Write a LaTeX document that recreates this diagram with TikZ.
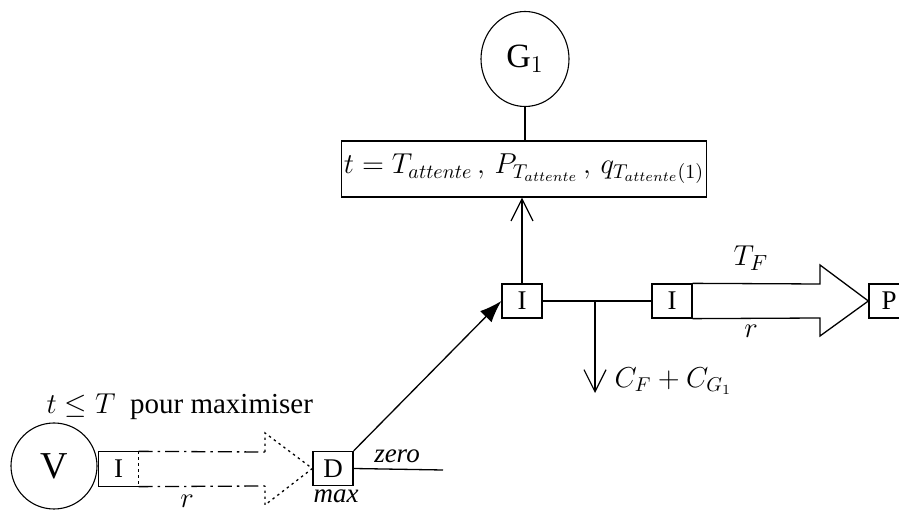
\documentclass[tikz,border=0pt]{standalone}
\usepackage{fontspec}
\setmainfont{Liberation Serif}
\usetikzlibrary{arrows.meta,shapes.geometric,calc}

\begin{document}
\begin{tikzpicture}[x=0.5pt,y=-0.5pt,line width=0.65pt,
  letterbox/.style={draw,rectangle,inner sep=0pt,minimum width=20pt,minimum height=17pt,
    font=\fontsize{13.5}{14}\selectfont},
  agent/.style={draw,ellipse,inner sep=0pt,line width=0.55pt},
  infobox/.style={draw,rectangle,inner sep=1pt,minimum width=178pt,minimum height=28pt,
    font=\fontsize{14.5}{16}\selectfont},
  lbl/.style={inner sep=0pt,font=\fontsize{15}{16}\selectfont},
  smalllbl/.style={inner sep=0pt,font=\fontsize{13.5}{14}\selectfont\itshape},
  barb/.style={-{Straight Barb[length=11pt,width=11pt,line width=0.6pt]}},
  dashdot/.style={dash pattern=on 7pt off 2.5pt on 1.2pt off 2.5pt},
  dotline/.style={dash pattern=on 1.2pt off 1.8pt}]
\useasboundingbox (0,0) rectangle (899,512);
\clip (0,0) rectangle (899,512);

% agents
\node[agent,minimum width=44pt,minimum height=47.5pt,font=\fontsize{17}{18}\selectfont]
  (G1) at (525,59) {G$_1$};
\node[agent,minimum width=43pt,minimum height=43pt,font=\fontsize{19}{20}\selectfont]
  (V) at (54,466) {V};

% information box
\node[infobox] (info) at (524,169)
  {$t = T_{attente}\,,\,P_{T_{attente}}\,,\,q_{T_{attente}(1)}$};

% small boxes
\node[letterbox] (Iup) at (522,301) {I};
\node[letterbox] (I2) at (672,301) {I};
\node[letterbox] (P) at (889,301) {P};
\node[letterbox] (D) at (333,468.5) {D};
\node[letterbox,draw=none,minimum width=19.5pt] (Iv) at (118.5,469) {I};
\draw (Iv.north east) -- (Iv.north west) -- (Iv.south west) -- (Iv.south east);
\draw[dotline] (Iv.north east) -- (Iv.south east);

% G1 to the information box
\draw (G1.south) -- (G1.south |- info.north);
\draw[barb] (Iup.north) -- (Iup.north |- info.south);

% D to I
\draw[-{Latex[length=11pt,width=8pt]}] (D.north east) -- (Iup.west);

% I to I, with the cost branch
\coordinate (J) at (595,301);
\coordinate (Jend) at (595,393);
\draw (Iup.east) -- (I2.west);
\draw[barb] (J) -- (Jend);
\node[lbl,anchor=west,font=\fontsize{14}{15}\selectfont] (cost) at (614,381) {$C_F + C_{G_1}$};

% hollow arrow from I to P
\coordinate (s1) at (820,284);
\coordinate (h1) at (820,265);
\coordinate (h2) at (820,336);
\coordinate (s2) at (820,318);
\draw[line join=miter] (I2.north east) -- (s1) -- (h1) -- (P.west) -- (h2) -- (s2) -- (I2.south east);
\node[lbl] (TF) at (751,258) {$T_F$};
\node[lbl] (r1) at (751,331) {$r$};

% dashed hollow arrow from V's I to D
\coordinate (a1) at (265,452);
\coordinate (b1) at (265,433);
\coordinate (b2) at (265,505);
\coordinate (a2) at (265,486);
\draw[dashdot] (Iv.north east) -- (a1);
\draw[dashdot] (Iv.south east) -- (a2);
\draw[dotline] (a1) -- (b1) -- (D.west) -- (b2) -- (a2);
\node[lbl] (r2) at (187,501) {$r$};

% D outputs
\coordinate (zend) at (443,470);
\draw (D.east) -- (zend);
\node[smalllbl] (zero) at (397,456) {zero};
\node[smalllbl] (max) at (336,496) {max};

% constraint text
\node[lbl,anchor=base west,font=\fontsize{14.5}{16}\selectfont] (cond) at (46,414)
  {$t \leq T$\ \ pour maximiser};
\end{tikzpicture}
\end{document}
